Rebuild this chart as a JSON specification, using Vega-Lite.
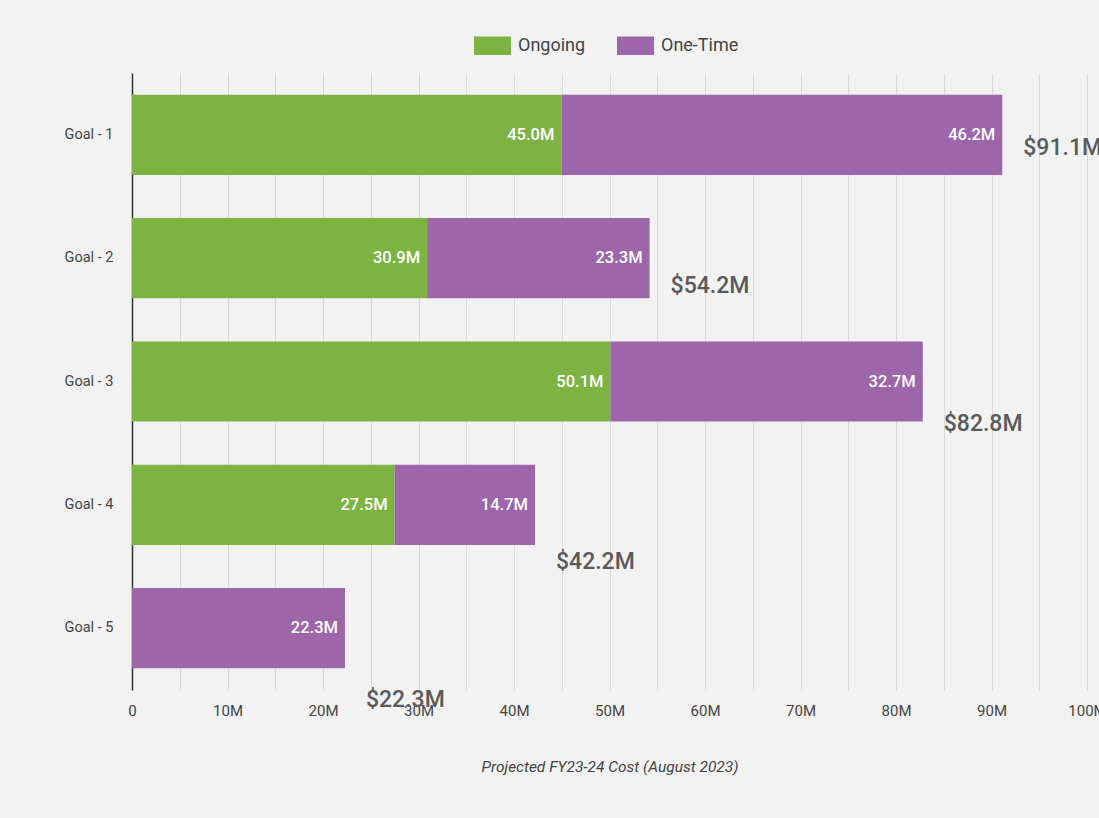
{
  "$schema": "https://vega.github.io/schema/vega-lite/v6.json",
  "width": 955,
  "height": 617,
  "autosize": {"type": "none"},
  "padding": {"left": 132, "top": 73, "right": 12, "bottom": 128},
  "background": "#f2f2f2",
  "config": {"font": "Roboto", "view": {"stroke": null}},
  "data": {
    "values": [
      {"goal": "Goal - 1", "type": "Ongoing", "value": 44.96},
      {"goal": "Goal - 1", "type": "One-Time", "value": 46.17},
      {"goal": "Goal - 2", "type": "Ongoing", "value": 30.9},
      {"goal": "Goal - 2", "type": "One-Time", "value": 23.3},
      {"goal": "Goal - 3", "type": "Ongoing", "value": 50.1},
      {"goal": "Goal - 3", "type": "One-Time", "value": 32.7},
      {"goal": "Goal - 4", "type": "Ongoing", "value": 27.5},
      {"goal": "Goal - 4", "type": "One-Time", "value": 14.7},
      {"goal": "Goal - 5", "type": "One-Time", "value": 22.3}
    ]
  },
  "layer": [
    {
      "encoding": {
        "y": {
          "field": "goal",
          "type": "nominal",
          "sort": null,
          "scale": {"paddingInner": 0.35, "paddingOuter": 0.176},
          "axis": {
            "title": null,
            "ticks": false,
            "domainColor": "#333333",
            "domainWidth": 1.5,
            "labelFontSize": 14.5,
            "labelColor": "#444444",
            "labelPadding": 19,
            "grid": false
          }
        },
        "x": {
          "field": "value",
          "type": "quantitative",
          "stack": "zero",
          "scale": {"domain": [0, 100], "nice": false},
          "axis": {
            "values": [0, 5, 10, 15, 20, 25, 30, 35, 40, 45, 50, 55, 60, 65, 70, 75, 80, 85, 90, 95, 100],
            "labelExpr": "datum.value == 0 ? '0' : (datum.value % 10 == 0 ? datum.value + 'M' : '')",
            "labelFlush": false,
            "labelOverlap": false,
            "grid": true,
            "gridColor": "#d9d9d9",
            "ticks": false,
            "domain": false,
            "labelFontSize": 15,
            "labelColor": "#444444",
            "labelPadding": 13,
            "title": "Projected FY23-24 Cost (August 2023)",
            "titleFontStyle": "italic",
            "titleFontWeight": "normal",
            "titleFontSize": 15.5,
            "titleColor": "#444444",
            "titlePadding": 41
          }
        },
        "order": {"field": "type", "sort": "descending"}
      },
      "layer": [
        {
          "mark": {"type": "bar"},
          "encoding": {
            "color": {
              "field": "type",
              "type": "nominal",
              "scale": {"domain": ["Ongoing", "One-Time"], "range": ["#7cb342", "#9d65aa"]},
              "legend": {
                "title": null,
                "orient": "none",
                "legendX": 342,
                "legendY": -46,
                "direction": "horizontal",
                "symbolType": "M-1,-0.5H1V0.5H-1Z",
                "symbolSize": 1369,
                "symbolStrokeWidth": 0,
                "symbolOpacity": 1,
                "labelFontSize": 18,
                "labelColor": "#444444",
                "labelOffset": 7,
                "columnPadding": 31
              }
            }
          }
        },
        {
          "transform": [{"calculate": "format(datum.value, '.1f') + 'M'", "as": "lbl"}],
          "mark": {"type": "text", "align": "right", "baseline": "middle", "dx": -7, "color": "white", "fontSize": 16.5, "fontWeight": 500},
          "encoding": {"text": {"field": "lbl"}}
        }
      ]
    },
    {
      "transform": [
        {"aggregate": [{"op": "sum", "field": "value", "as": "total"}], "groupby": ["goal"]},
        {"calculate": "'$' + format(datum.total, '.1f') + 'M'", "as": "tlbl"}
      ],
      "mark": {"type": "text", "align": "left", "baseline": "middle", "dx": 21, "color": "#5a5a5a", "fontSize": 23, "fontWeight": 500},
      "encoding": {
        "y": {
          "field": "goal",
          "type": "nominal",
          "sort": null,
          "scale": {"range": [6, 696], "paddingInner": 0, "paddingOuter": 0},
          "axis": null
        },
        "x": {"field": "total", "type": "quantitative"},
        "text": {"field": "tlbl"}
      }
    }
  ],
  "resolve": {"scale": {"y": "independent"}}
}
